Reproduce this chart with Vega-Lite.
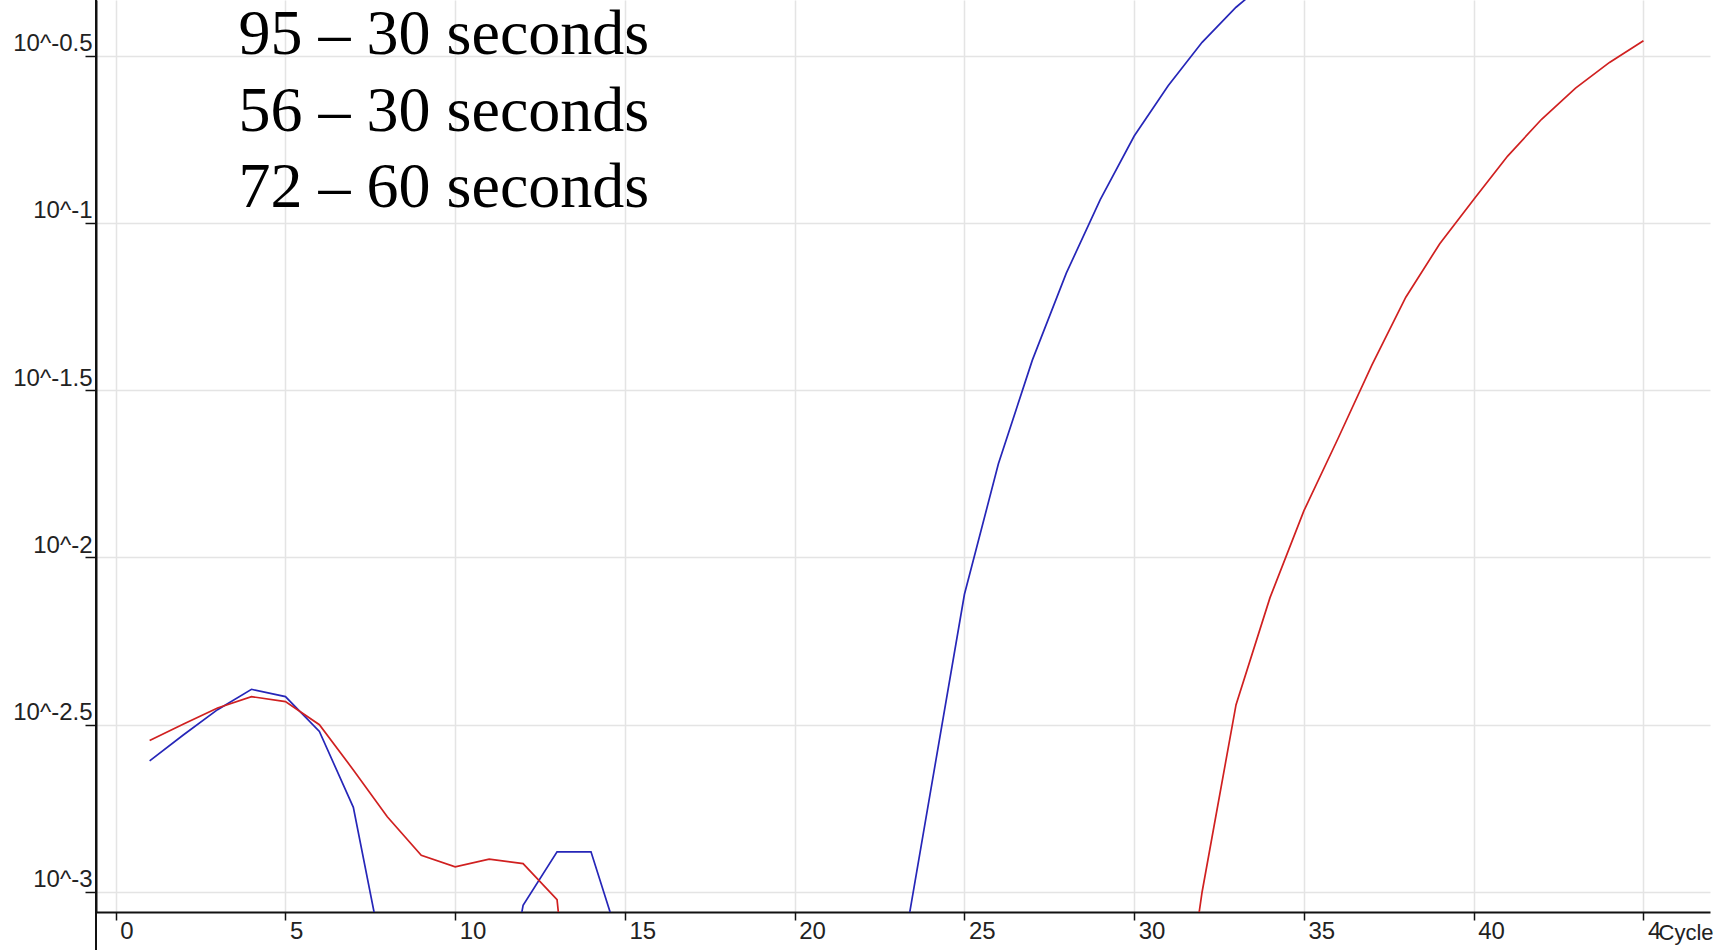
{
  "$schema": "https://vega.github.io/schema/vega-lite/v6.json",
  "width": 1614,
  "height": 912,
  "autosize": {"type": "none"},
  "padding": {"left": 96, "top": 0, "right": 12, "bottom": 38},
  "background": "white",
  "config": {"view": {"stroke": null}},
  "datasets": {
    "curves": [
      {"series": "Sample A", "cycle": 1, "log_fluor": -2.608},
      {"series": "Sample A", "cycle": 2, "log_fluor": -2.53},
      {"series": "Sample A", "cycle": 3, "log_fluor": -2.455},
      {"series": "Sample A", "cycle": 4, "log_fluor": -2.394},
      {"series": "Sample A", "cycle": 5, "log_fluor": -2.416},
      {"series": "Sample A", "cycle": 6, "log_fluor": -2.52},
      {"series": "Sample A", "cycle": 7, "log_fluor": -2.747},
      {"series": "Sample A", "cycle": 8, "log_fluor": -3.26},
      {"series": "Sample A", "cycle": 11, "log_fluor": -3.6},
      {"series": "Sample A", "cycle": 12, "log_fluor": -3.04},
      {"series": "Sample A", "cycle": 13, "log_fluor": -2.88},
      {"series": "Sample A", "cycle": 14, "log_fluor": -2.88},
      {"series": "Sample A", "cycle": 15, "log_fluor": -3.2},
      {"series": "Sample A", "cycle": 23, "log_fluor": -3.29},
      {"series": "Sample A", "cycle": 24, "log_fluor": -2.7},
      {"series": "Sample A", "cycle": 25, "log_fluor": -2.11},
      {"series": "Sample A", "cycle": 26, "log_fluor": -1.72},
      {"series": "Sample A", "cycle": 27, "log_fluor": -1.41},
      {"series": "Sample A", "cycle": 28, "log_fluor": -1.15},
      {"series": "Sample A", "cycle": 29, "log_fluor": -0.93},
      {"series": "Sample A", "cycle": 30, "log_fluor": -0.74},
      {"series": "Sample A", "cycle": 31, "log_fluor": -0.59},
      {"series": "Sample A", "cycle": 32, "log_fluor": -0.46},
      {"series": "Sample A", "cycle": 33, "log_fluor": -0.355},
      {"series": "Sample A", "cycle": 34, "log_fluor": -0.27},
      {"series": "Sample B", "cycle": 1, "log_fluor": -2.547},
      {"series": "Sample B", "cycle": 2, "log_fluor": -2.498},
      {"series": "Sample B", "cycle": 3, "log_fluor": -2.45},
      {"series": "Sample B", "cycle": 4, "log_fluor": -2.416},
      {"series": "Sample B", "cycle": 5, "log_fluor": -2.431},
      {"series": "Sample B", "cycle": 6, "log_fluor": -2.5},
      {"series": "Sample B", "cycle": 7, "log_fluor": -2.635},
      {"series": "Sample B", "cycle": 8, "log_fluor": -2.775},
      {"series": "Sample B", "cycle": 9, "log_fluor": -2.89},
      {"series": "Sample B", "cycle": 10, "log_fluor": -2.925},
      {"series": "Sample B", "cycle": 11, "log_fluor": -2.902},
      {"series": "Sample B", "cycle": 12, "log_fluor": -2.915},
      {"series": "Sample B", "cycle": 13, "log_fluor": -3.023},
      {"series": "Sample B", "cycle": 14, "log_fluor": -4.0},
      {"series": "Sample B", "cycle": 31, "log_fluor": -3.7},
      {"series": "Sample B", "cycle": 32, "log_fluor": -3.0},
      {"series": "Sample B", "cycle": 33, "log_fluor": -2.44},
      {"series": "Sample B", "cycle": 34, "log_fluor": -2.12},
      {"series": "Sample B", "cycle": 35, "log_fluor": -1.86},
      {"series": "Sample B", "cycle": 36, "log_fluor": -1.645},
      {"series": "Sample B", "cycle": 37, "log_fluor": -1.425},
      {"series": "Sample B", "cycle": 38, "log_fluor": -1.222},
      {"series": "Sample B", "cycle": 39, "log_fluor": -1.062},
      {"series": "Sample B", "cycle": 40, "log_fluor": -0.93},
      {"series": "Sample B", "cycle": 41, "log_fluor": -0.8},
      {"series": "Sample B", "cycle": 42, "log_fluor": -0.69},
      {"series": "Sample B", "cycle": 43, "log_fluor": -0.597},
      {"series": "Sample B", "cycle": 44, "log_fluor": -0.52},
      {"series": "Sample B", "cycle": 45, "log_fluor": -0.455}
    ],
    "notes": [
      {"note": "95 – 30 seconds", "order": 1},
      {"note": "56 – 30 seconds", "order": 2},
      {"note": "72 – 60 seconds", "order": 3}
    ]
  },
  "layer": [
    {
      "data": {"name": "curves"},
      "mark": {"type": "line", "clip": true, "strokeWidth": 1.7},
      "encoding": {
        "x": {
          "field": "cycle",
          "type": "quantitative",
          "scale": {"domain": [-0.58, 46.96], "nice": false, "zero": false},
          "axis": {
            "values": [0, 5, 10, 15, 20, 25, 30, 35, 40, 45],
            "labelExpr": "datum.value == 45 ? '4' : datum.label",
            "grid": true,
            "gridColor": "#e4e4e4",
            "gridWidth": 1.5,
            "domainColor": "#111",
            "domainWidth": 2,
            "tickColor": "#111",
            "tickWidth": 1.5,
            "tickSize": 8,
            "labelAlign": "left",
            "labelBaseline": "top",
            "labelOffset": 4,
            "labelPadding": -1,
            "labelFlush": false,
            "labelOverlap": false,
            "labelFont": "Liberation Sans",
            "labelFontSize": 24,
            "labelColor": "#222",
            "title": "Cycle",
            "titleX": 1562,
            "titleY": 10,
            "titleAlign": "left",
            "titleAnchor": null,
            "titleBaseline": "top",
            "titleFont": "Liberation Sans",
            "titleFontSize": 22,
            "titleFontWeight": "normal",
            "titleColor": "#222"
          }
        },
        "y": {
          "field": "log_fluor",
          "type": "quantitative",
          "scale": {"domain": [-3.0598, -0.3334], "nice": false, "zero": false},
          "axis": {
            "values": [-3, -2.5, -2, -1.5, -1, -0.5],
            "labelExpr": "'10^' + datum.value",
            "grid": true,
            "gridColor": "#e4e4e4",
            "gridWidth": 1.5,
            "domainColor": "#111",
            "domainWidth": 2,
            "tickColor": "#111",
            "tickWidth": 1.5,
            "tickSize": 11,
            "labelAlign": "right",
            "labelBaseline": "alphabetic",
            "labelOffset": -5,
            "labelPadding": -7,
            "labelOverlap": false,
            "labelFlush": false,
            "labelFont": "Liberation Sans",
            "labelFontSize": 24,
            "labelColor": "#222",
            "title": null
          }
        },
        "color": {
          "field": "series",
          "type": "nominal",
          "scale": {"domain": ["Sample A", "Sample B"], "range": ["#2626b8", "#d02020"]},
          "legend": null
        }
      }
    },
    {
      "data": {"values": [{}]},
      "mark": {"type": "rule", "color": "#111", "strokeWidth": 2},
      "encoding": {
        "x": {"datum": -0.58, "type": "quantitative"},
        "y": {"datum": -0.3334, "type": "quantitative"},
        "y2": {"datum": -3.175}
      }
    },
    {
      "data": {"name": "notes"},
      "mark": {
        "type": "text",
        "font": "Liberation Serif",
        "fontSize": 64,
        "align": "left",
        "baseline": "alphabetic",
        "color": "#000"
      },
      "encoding": {
        "x": {"datum": 3.62, "type": "quantitative"},
        "y": {"datum": -0.496, "type": "quantitative"},
        "yOffset": {"field": "order", "type": "quantitative", "scale": {"domain": [1, 3], "range": [0, 153]}},
        "text": {"field": "note", "type": "nominal"}
      }
    }
  ]
}
